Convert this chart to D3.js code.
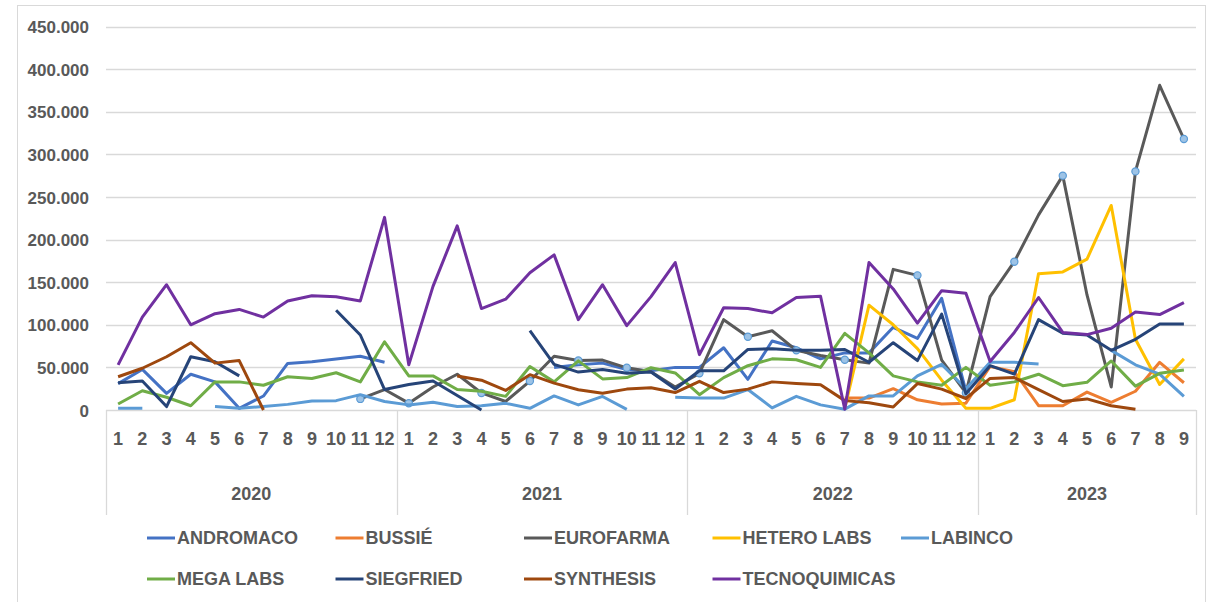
<!DOCTYPE html>
<html>
<head>
<meta charset="utf-8">
<script src="https://cdn.jsdelivr.net/npm/d3@7"></script>
<style>
  body { margin: 0; background: #fff; }
  text { font-family: "Liberation Sans", Arial, sans-serif; font-weight: bold; fill: #595959; }
</style>
</head>
<body>
<div id="chart"></div>
<script>
// values in thousands, null = no data that month
var years = ['2020', '2021', '2022', '2023'];
var monthsPerYear = [12, 12, 12, 9];
var yTicks = [0, 50, 100, 150, 200, 250, 300, 350, 400, 450];

var seriesNames = ['ANDROMACO', 'BUSSIÉ', 'EUROFARMA', 'HETERO LABS', 'LABINCO',
  'MEGA LABS', 'SIEGFRIED', 'SYNTHESIS', 'TECNOQUIMICAS'];
var seriesColors = ['#4472c4', '#ed7d31', '#595959', '#ffc000', '#5b9bd5',
  '#70ad47', '#264478', '#9e480e', '#7030a0'];

var andromaco = [31, 47.6, 19.5, 42, 33, 2, 16.4, 54.7, 56.6, 59.8, 63, 56,
  null, null, null, null, null, null, 50, 53, 55, 47.6, 46, 50,
  50, 73, 36, 81, 73, 60, 67, 67, 97, 84, 131, 22,
  null, null, null, null, null, null, null, null, null];
var bussie = [null, null, null, null, null, null, null, null, null, null, null, null,
  null, null, null, null, null, null, null, null, null, null, null, null,
  null, null, null, null, null, null, 14, 14, 25, 12, 7, 8,
  51, 45, 5, 5, 21, 9, 22, 56, 32];
var eurofarma = [null, null, null, null, null, null, null, null, null, null, 13, 24,
  8, 27, 42, 20, 10, 34, 63, 58, 58.6, 49.5, 45, 27,
  43, 106, 86, 93, 70, 64, 59, 55, 165, 158, 58.6, 20,
  133, 174, 229, 275, 135, 27, 280, 381, 318];
var heteroLabs = [null, null, null, null, null, null, null, null, null, null, null, null,
  null, null, null, null, null, null, null, null, null, null, null, null,
  null, null, null, null, null, null, 2, 123, 100, 72, 35, 2,
  2, 12, 160, 162, 177, 240, 83, 30, 60];
var labinco = [2, 2, null, null, 4, 2, 4, 6.6, 10.5, 11, 18, 10,
  6, 9, 4, 5, 7.8, 2, 16.5, 6, 15.9, 0.8, null, 15,
  14, 14, 24, 2.5, 16, 6, 1, 16.5, 16.5, 40, 53.5, 25,
  56, 56, 54, null, null, 70, 53, 42, 16];
var megaLabs = [7, 22.6, 15, 5, 33, 33, 29, 39, 37, 43.7, 33, 80,
  40, 40, 24, 22, 16, 51, 33, 57.6, 36.5, 38, 49.6, 43.5,
  18, 38, 52, 60, 59, 50, 90, 67, 40, 33, 29, 50,
  29, 33, 42, 28.5, 32.5, 57.5, 28, 43, 47];
var siegfried = [32, 34, 4, 62.5, 56.6, 40, null, null, null, 117, 88, 24,
  30, 34, 17, 0, null, 93, 53.6, 44.5, 47.6, 43, 44.5, 24.6,
  46, 46, 71, 72, 70, 70, 71, 56, 79, 58, 112.5, 19,
  52, 42, 106, 90, 88, 70, 83, 101, 101];
var synthesis = [39, 49, 62.5, 79, 55, 58, 0, null, null, null, null, null,
  null, null, 40, 35, 23, 41.5, 31.5, 23.8, 19.7, 24.5, 26, 20.5,
  33.7, 20.5, 24.5, 33, 31, 29.5, 11, 8.5, 3.5, 31, 24.5, 13.5,
  37, 38, 24, 10, 13, 5, 1, null, null];
var tecnoquimicas = [53, 109, 147, 100, 113, 118, 109, 128, 134, 133, 128, 226,
  53, 145, 216, 119, 130, 161, 182, 106, 147, 99, 133, 173,
  65, 120, 119, 114, 132, 133.5, 1, 173, 142, 102, 140, 137,
  57, 91, 132, 91, 88.5, 96, 115, 112, 126];
// months of the EUROFARMA line that carry a marker
var eurofarmaMarked = [10, 12, 15, 17, 19, 21, 24, 26, 28, 30, 33, 35, 37, 39, 42, 44];

var seriesValues = [andromaco, bussie, eurofarma, heteroLabs, labinco,
  megaLabs, siegfried, synthesis, tecnoquimicas];

var width = 1213, height = 602;
var margin = { left: 106, right: 17, top: 26.5, bottom: 192 };

// category list: one entry per month
var cats = [];
years.forEach(function (y, yi) {
  for (var m = 1; m <= monthsPerYear[yi]; m++) cats.push({ year: y, month: m, key: y + '-' + m });
});

var svg = d3.select('#chart').append('svg')
  .attr('width', width)
  .attr('height', height);

svg.append('rect')
  .attr('x', 17.5).attr('y', 5.5)
  .attr('width', 1188).attr('height', 620)
  .attr('fill', 'none')
  .attr('stroke', '#d9d9d9');

var x = d3.scaleBand()
  .domain(cats.map(function (d) { return d.key; }))
  .range([margin.left, width - margin.right - 0]);

var y = d3.scaleLinear()
  .domain([0, 450])
  .range([410, margin.top]);

var loc = d3.formatLocale({ decimal: ',', thousands: '.', grouping: [3], currency: ['$', ''] });
var fmt = loc.format(',');

// gridlines
svg.append('g')
  .selectAll('line')
  .data(yTicks.slice(1))
  .join('line')
  .attr('x1', margin.left).attr('x2', x.range()[1])
  .attr('y1', function (d) { return Math.round(y(d)) + 0.5; })
  .attr('y2', function (d) { return Math.round(y(d)) + 0.5; })
  .attr('stroke', '#d9d9d9')
  .attr('stroke-width', 1.3);

// y axis labels
var yAxis = svg.append('g')
  .attr('transform', 'translate(' + (margin.left - 17) + ',0)')
  .call(d3.axisLeft(y).tickValues(yTicks).tickSize(0).tickPadding(0)
    .tickFormat(function (d) { return fmt(d * 1000); }));
yAxis.select('.domain').remove();
yAxis.selectAll('text')
  .style('font-size', '17px')
  .attr('fill', '#595959')
  .attr('dy', '0.36em');

// category axis line
svg.append('line')
  .attr('x1', margin.left).attr('x2', x.range()[1])
  .attr('y1', 410.5).attr('y2', 410.5)
  .attr('stroke', '#d9d9d9').attr('stroke-width', 1.3);

// month labels
var xAxis = svg.append('g')
  .attr('transform', 'translate(0,410)')
  .call(d3.axisBottom(x).tickSize(0).tickPadding(22)
    .tickFormat(function (k) { return k.split('-')[1]; }));
xAxis.select('.domain').remove();
xAxis.selectAll('text')
  .style('font-size', '18px')
  .attr('fill', '#595959');

// year group separators and labels
var bounds = [];
var acc = 0;
years.forEach(function (yv, yi) {
  var first = cats[acc].key;
  var last = cats[acc + monthsPerYear[yi] - 1].key;
  bounds.push({ year: yv, x0: x(first), x1: x(last) + x.bandwidth() });
  acc += monthsPerYear[yi];
});

svg.append('g').selectAll('line')
  .data([bounds[0].x0].concat(bounds.map(function (b) { return b.x1; })))
  .join('line')
  .attr('x1', function (d) { return Math.round(d) + 0.5; })
  .attr('x2', function (d) { return Math.round(d) + 0.5; })
  .attr('y1', 410).attr('y2', 515)
  .attr('stroke', '#d9d9d9').attr('stroke-width', 1.3);

svg.append('g').selectAll('text')
  .data(bounds)
  .join('text')
  .attr('x', function (b) { return (b.x0 + b.x1) / 2; })
  .attr('y', 494)
  .attr('dy', '0.36em')
  .attr('text-anchor', 'middle')
  .style('font-size', '18px')
  .text(function (b) { return b.year; });

// series lines
var line = d3.line()
  .defined(function (d) { return d != null; })
  .x(function (d, i) { return x(cats[i].key) + x.bandwidth() / 2; })
  .y(function (d) { return y(d); });

var lines = svg.append('g');
seriesValues.forEach(function (vals, si) {
  lines.append('path')
    .datum(vals)
    .attr('fill', 'none')
    .attr('stroke', seriesColors[si])
    .attr('stroke-width', 3)
    .attr('stroke-linejoin', 'round')
    .attr('d', line);

  if (si === 2) {
    lines.append('g').selectAll('circle')
      .data(eurofarmaMarked)
      .join('circle')
      .attr('cx', function (i) { return x(cats[i].key) + x.bandwidth() / 2; })
      .attr('cy', function (i) { return y(eurofarma[i]); })
      .attr('r', 3.6)
      .attr('fill', '#9dc3e6')
      .attr('stroke', '#5b9bd5')
      .attr('stroke-width', 1.2);
  }
});

// legend
var legend = svg.append('g');
seriesNames.forEach(function (name, i) {
  var col = i % 5, row = Math.floor(i / 5);
  var lx = 147 + col * 188.5, ly = 538 + row * 41;
  var g = legend.append('g').attr('transform', 'translate(' + lx + ',' + ly + ')');
  g.append('line')
    .attr('x1', 0).attr('x2', 28)
    .attr('stroke', seriesColors[i])
    .attr('stroke-width', 3);
  g.append('text')
    .attr('x', 30)
    .attr('dy', '0.36em')
    .style('font-size', '18px')
    .text(name);
});
</script>
</body>
</html>
